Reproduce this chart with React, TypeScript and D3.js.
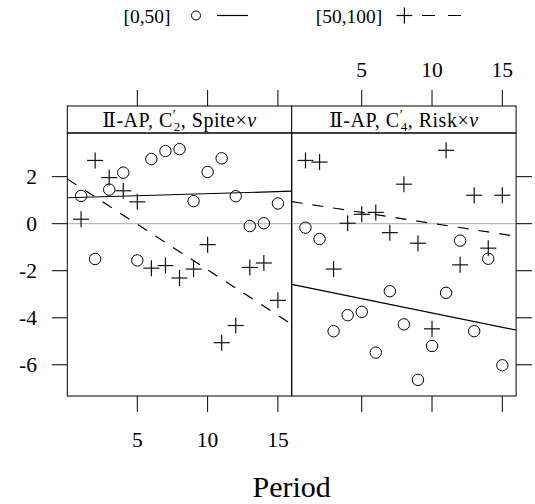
import React from "react";
import * as d3 from "d3";

const periods = [1, 2, 3, 4, 5, 6, 7, 8, 9, 10, 11, 12, 13, 14, 15];
const xTicks = [5, 10, 15];
const yTicks = [2, 0, -2, -4, -6];
const groupLabels = ["[0,50]", "[50,100]"];

// panel 1: Ⅱ-AP, C'_2, Spite×ν
const spiteLow = [1.18, -1.5, 1.45, 2.17, -1.56, 2.75, 3.09, 3.17, 0.96, 2.2, 2.78, 1.17, -0.1, 0.02, 0.86];
const spiteHigh = [0.19, 2.69, 1.96, 1.4, 0.93, -1.89, -1.78, -2.31, -1.93, -0.89, -5.06, -4.33, -1.86, -1.67, -3.26];
// panel 2: Ⅱ-AP, C'_4, Risk×ν
const riskLow = [-0.17, -0.65, -4.57, -3.89, -3.75, -5.48, -2.87, -4.28, -6.64, -5.2, -2.94, -0.72, -4.57, -1.49, -6.02];
const riskHigh = [2.69, 2.62, -1.93, 0.02, 0.4, 0.48, -0.38, 1.68, -0.83, -4.47, 3.12, -1.75, 1.21, -1.04, 1.21];

const panels = [
  { sub: "2", name: "Spite", low: spiteLow, high: spiteHigh },
  { sub: "4", name: "Risk", low: riskLow, high: riskHigh },
];

const W = 535;
const H = 504;
const panelLeft = 67.3;
const panelW = 224.4;
const plotTop = 133;
const plotBottom = 396;
const stripTop = 106;
const FONT = "'Liberation Serif', 'DejaVu Serif', serif";
const DASH = "11,10";

function fit(xs: number[], ys: number[]) {
  const mx = d3.mean(xs) as number;
  const my = d3.mean(ys) as number;
  let sxy = 0;
  let sxx = 0;
  xs.forEach((x, i) => {
    sxy += (x - mx) * (ys[i] - my);
    sxx += (x - mx) * (x - mx);
  });
  const b = sxy / sxx;
  return { a: my - b * mx, b };
}

function padded(ext: [number, number]): [number, number] {
  const r = ext[1] - ext[0];
  return [ext[0] - 0.07 * r, ext[1] + 0.07 * r];
}

export default function App() {
  const allY = panels.flatMap((p) => [...p.low, ...p.high]);
  const yDom = padded(d3.extent(allY) as [number, number]);
  const xDom = padded(d3.extent(periods) as [number, number]);
  const y = d3.scaleLinear().domain(yDom).range([plotBottom, plotTop]);

  return (
    <svg
      width={W}
      height={H}
      style={{ position: "absolute", left: 0, top: 0, display: "block", background: "#fff" }}
      fontFamily={FONT}
    >
      <rect x={0} y={0} width={W} height={H} fill="#fff" />
      {/* legend */}
      <g>
        <text x={123.5} y={23} fontSize={19.5}>{groupLabels[0]}</text>
        <circle cx={196} cy={15.5} r={4.5} fill="none" stroke="#000" strokeWidth={1} />
        <line x1={217} x2={248} y1={15.5} y2={15.5} stroke="#000" strokeWidth={1.2} />
        <text x={315.7} y={23} fontSize={19.5}>{groupLabels[1]}</text>
        <line x1={396.5} x2={412.3} y1={15.5} y2={15.5} stroke="#000" strokeWidth={1.2} />
        <line x1={404.4} x2={404.4} y1={7.6} y2={23.4} stroke="#000" strokeWidth={1.2} />
        <line x1={422} x2={461.5} y1={15.5} y2={15.5} stroke="#000" strokeWidth={1.2} strokeDasharray="13,13" />
      </g>
      {panels.map((p, pi) => {
        const x0 = panelLeft + pi * panelW;
        const x = d3.scaleLinear().domain(xDom).range([x0, x0 + panelW]);
        const lowFit = fit(periods, p.low);
        const highFit = fit(periods, p.high);
        const clipId = `clip${pi}`;
        const line = (f: { a: number; b: number }) => {
          const gen = d3
            .line<number>()
            .x((v) => x(v))
            .y((v) => y(f.a + f.b * v));
          return gen(xDom) || "";
        };
        return (
          <g key={pi}>
            <defs>
              <clipPath id={clipId}>
                <rect x={x0} y={plotTop} width={panelW} height={plotBottom - plotTop} />
              </clipPath>
            </defs>
            {/* strip */}
            <rect x={x0} y={stripTop} width={panelW} height={plotTop - stripTop} fill="#fff" stroke="#000" strokeWidth={1} />
            <text x={x0 + panelW / 2} y={126.5} fontSize={20} letterSpacing={0.5} textAnchor="middle">
              <tspan>Ⅱ-AP, C</tspan>
              <tspan dy={-7} fontSize={14}>′</tspan>
              <tspan dx={-2.5} dy={11} fontSize={13}>{p.sub}</tspan>
              <tspan dy={-4}>{`, ${p.name}×`}</tspan>
              <tspan fontStyle="italic">ν</tspan>
            </text>
            {/* zero reference */}
            <line x1={x0} x2={x0 + panelW} y1={y(0)} y2={y(0)} stroke="#aaaaaa" strokeWidth={1} />
            <g clipPath={`url(#${clipId})`}>
              <path d={line(lowFit)} fill="none" stroke="#000" strokeWidth={1.2} />
              <path d={line(highFit)} fill="none" stroke="#000" strokeWidth={1.2} strokeDasharray={DASH} />
            </g>
            {periods.map((v, i) => (
              <circle key={`c${i}`} cx={x(v)} cy={y(p.low[i])} r={5.7} fill="none" stroke="#000" strokeWidth={1} />
            ))}
            {periods.map((v, i) => (
              <g key={`p${i}`} stroke="#111" strokeWidth={1.2}>
                <line x1={x(v) - 8} x2={x(v) + 8} y1={y(p.high[i])} y2={y(p.high[i])} />
                <line x1={x(v)} x2={x(v)} y1={y(p.high[i]) - 8} y2={y(p.high[i]) + 8} />
              </g>
            ))}
            <rect x={x0} y={plotTop} width={panelW} height={plotBottom - plotTop} fill="none" stroke="#000" strokeWidth={1} />
            {/* x ticks top and bottom */}
            {xTicks.map((t) => (
              <g key={`xt${t}`} stroke="#000" strokeWidth={1}>
                <line x1={x(t)} x2={x(t)} y1={stripTop} y2={stripTop - 16} />
                <line x1={x(t)} x2={x(t)} y1={plotBottom} y2={plotBottom + 16} />
              </g>
            ))}
            {pi === 0 &&
              xTicks.map((t) => (
                <text key={`xb${t}`} x={x(t)} y={447} fontSize={21.5} textAnchor="middle">
                  {t}
                </text>
              ))}
            {pi === 1 &&
              xTicks.map((t) => (
                <text key={`xtop${t}`} x={x(t)} y={77} fontSize={21.5} textAnchor="middle">
                  {t}
                </text>
              ))}
            {/* y ticks */}
            {yTicks.map((t) =>
              pi === 0 ? (
                <g key={`yt${t}`}>
                  <line x1={x0 - 15.5} x2={x0} y1={y(t)} y2={y(t)} stroke="#000" strokeWidth={1} />
                  <text x={37} y={y(t)} dy="0.35em" fontSize={21.5} textAnchor="end">
                    {t < 0 ? `-${Math.abs(t)}` : `${t}`}
                  </text>
                </g>
              ) : (
                <line key={`yt${t}`} x1={x0 + panelW} x2={x0 + panelW + 16} y1={y(t)} y2={y(t)} stroke="#000" strokeWidth={1} />
              )
            )}
          </g>
        );
      })}
      <text x={panelLeft + panelW} y={497} fontSize={30} textAnchor="middle">
        Period
      </text>
    </svg>
  );
}
